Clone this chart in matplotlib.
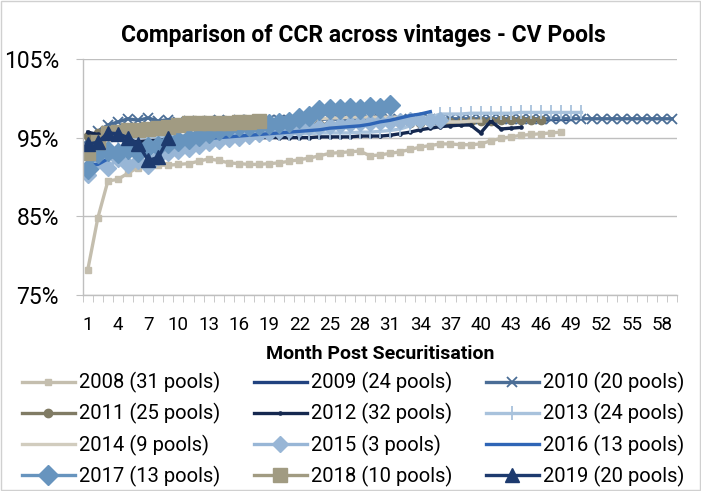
import matplotlib
matplotlib.use("Agg")
import matplotlib.pyplot as plt
from matplotlib.patches import Rectangle
from matplotlib.ticker import FixedLocator, FuncFormatter

plt.rcParams['font.family'] = ['Roboto', 'DejaVu Sans']

# CCR (%) by month post securitisation, one list per vintage
ccr_2008 = [78.2, 84.8, 89.5, 89.7, 90.5, 91.2, 91.5, 91.5, 91.5, 91.6,
            91.7, 92.0, 92.3, 92.1, 91.8, 91.7, 91.6, 91.6, 91.7, 91.8,
            92.0, 92.2, 92.4, 92.7, 93.0, 93.1, 93.2, 93.3, 92.7, 92.8,
            93.0, 93.2, 93.5, 93.8, 94.0, 94.2, 94.2, 94.1, 94.1, 94.2,
            94.6, 94.9, 95.1, 95.3, 95.4, 95.5, 95.6, 95.7]
ccr_2009 = [94.5, 94.9, 95.2, 95.4, 95.5, 95.6, 95.7, 95.8, 95.9, 96.0,
            96.0, 96.1, 96.1, 96.2, 96.2, 96.3, 96.3, 96.4, 96.4, 96.5,
            96.5, 96.5, 96.6, 96.6, 96.6, 96.7, 96.7, 96.7, 96.8, 96.8,
            96.8, 96.9, 96.9, 96.9, 97.0, 97.0, 97.0, 97.0, 97.1, 97.1,
            97.1, 97.1, 97.2, 97.2, 97.2, 97.2, 97.3, 97.3, 97.3]
ccr_2010 = [94.8, 95.8, 96.6, 97.0, 97.4, 97.2, 97.5, 97.1, 97.3, 97.0,
            97.1, 97.0, 97.1, 97.2, 97.1, 97.2, 97.2, 97.3, 97.2, 97.3,
            97.3, 97.2, 97.3, 97.3, 97.4, 97.3, 97.3, 97.4, 97.3, 97.4,
            97.4, 97.3, 97.4, 97.4, 97.4, 97.3, 97.4, 97.4, 97.4, 97.4,
            97.4, 97.4, 97.4, 97.4, 97.4, 97.4, 97.4, 97.4, 97.4, 97.4,
            97.4, 97.4, 97.4, 97.4, 97.4, 97.4, 97.4, 97.4, 97.4]
ccr_2011 = [95.2, 95.6, 95.4, 95.8, 96.0, 96.0, 96.1, 96.1, 96.2, 96.2,
            96.3, 96.3, 96.3, 96.4, 96.4, 96.4, 96.5, 96.5, 96.5, 96.6,
            96.6, 96.6, 96.7, 96.7, 96.7, 96.7, 96.8, 96.8, 96.8, 96.8,
            96.9, 96.9, 96.9, 96.9, 97.0, 97.0, 97.0, 97.0, 97.1, 97.1,
            97.1, 97.2, 97.2, 97.2, 97.3, 97.3]
ccr_2012 = [95.7, 95.4, 95.0, 94.8, 94.6, 94.5, 94.6, 94.7, 94.8, 94.9,
            95.0, 95.0, 95.0, 95.0, 95.0, 95.0, 95.0, 95.0, 95.0, 95.0,
            95.0, 95.0, 95.0, 95.1, 95.1, 95.1, 95.1, 95.2, 95.2, 95.2,
            95.3, 95.5, 95.7, 96.0, 96.2, 96.4, 96.5, 96.6, 96.6, 95.6,
            97.1, 96.1, 96.2, 96.3]
ccr_2013 = [93.5, 94.0, 94.5, 94.8, 95.0, 95.0, 95.1, 95.1, 95.2, 95.2,
            95.3, 95.3, 95.3, 95.4, 95.4, 95.4, 95.4, 95.5, 95.5, 95.5,
            95.5, 95.5, 95.5, 95.6, 95.6, 95.6, 95.6, 95.7, 95.7, 95.8,
            95.9, 96.1, 96.5, 97.0, 97.6, 98.0, 98.0, 98.0, 98.1, 98.1,
            98.1, 98.1, 98.1, 98.2, 98.2, 98.2, 98.2, 98.2, 98.2, 98.2]
ccr_2014 = [94.0, 94.3, 94.6, 94.9, 95.1, 95.3, 95.5, 95.7, 95.8, 96.0,
            96.1, 96.2, 96.3, 96.4, 96.5, 96.6, 96.7, 96.8, 96.9, 97.0,
            97.1, 97.2, 97.3, 97.4, 97.5, 97.5, 97.6, 97.6, 97.6, 97.6,
            97.6, 97.6, 97.5, 97.3, 97.1, 97.0, 97.0, 97.0, 97.1, 97.1]
ccr_2015 = [90.2, 92.0, 91.2, 92.3, 91.5, 92.0, 91.4, 92.5, 93.0, 93.3,
            93.6, 94.0, 94.3, 94.6, 94.8, 95.0, 95.2, 95.4, 95.6, 95.8,
            96.0, 96.1, 96.3, 96.4, 96.5, 96.6, 96.7, 96.8, 96.9, 97.0,
            97.0, 97.1, 97.2, 97.2, 97.3, 97.3]
ccr_2016 = [91.5, 91.6, 92.3, 93.0, 93.4, 93.8, 94.1, 94.3, 94.4, 94.5,
            94.6, 94.8, 94.9, 95.0, 95.1, 95.2, 95.3, 95.4, 95.5, 95.6,
            95.7, 95.8, 95.9, 96.0, 96.2, 96.3, 96.4, 96.5, 96.7, 97.0,
            97.2, 97.5, 97.8, 98.0, 98.3]
ccr_2017 = [91.0, 93.0, 93.3, 93.0, 93.5, 93.2, 93.8, 94.0, 94.3, 94.6,
            94.8, 95.2, 95.6, 96.0, 96.3, 96.5, 96.5, 96.6, 96.7, 96.8,
            97.0, 97.5, 97.8, 98.5, 98.7, 98.6, 98.8, 98.7, 98.9, 98.8,
            99.2]
ccr_2018 = [93.0, 94.5, 95.6, 95.7, 96.0, 96.0, 96.1, 96.2, 96.3, 96.6,
            96.8, 96.9, 96.9, 96.9, 96.9, 97.0, 97.0, 97.1]
ccr_2019 = [94.2, 94.4, 95.6, 95.5, 95.0, 94.2, 92.1, 92.5, 94.9]

labels = ['2008 (31 pools)', '2009 (24 pools)', '2010 (20 pools)',
          '2011 (25 pools)', '2012 (32 pools)', '2013 (24 pools)',
          '2014 (9 pools)', '2015 (3 pools)', '2016 (13 pools)',
          '2017 (13 pools)', '2018 (10 pools)', '2019 (20 pools)']
series = [ccr_2008, ccr_2009, ccr_2010, ccr_2011, ccr_2012, ccr_2013,
          ccr_2014, ccr_2015, ccr_2016, ccr_2017, ccr_2018, ccr_2019]
colors = ['#C4BEAE', '#21427F', '#4A6D96', '#807B64', '#15284F', '#A8C2DC',
          '#D1CCBE', '#98B6D6', '#2F65B6', '#6794BE', '#A19B82', '#1D3A6E']
markers = ['s', None, 'x', 'o', '.', '|', None, 'D', None, 'D', 's', '^']
msizes = [5, 0, 7, 6, 4, 10, 0, 8, 0, 10, 10, 10]

n_months = 59

fig = plt.figure(figsize=(7.01, 4.91), dpi=100)
ax = fig.add_axes([0.118, 0.399, 0.848, 0.481])

lines = []
for vals, lab, c, m, ms in zip(series, labels, colors, markers, msizes):
    months = list(range(1, len(vals) + 1))
    if m is None:
        ln, = ax.plot(months, vals, color=c, lw=2.4, label=lab)
    elif m in ('x', '|', '.'):
        ln, = ax.plot(months, vals, color=c, lw=2.4, marker=m, ms=ms,
                      mew=1.3, label=lab)
    else:
        ln, = ax.plot(months, vals, color=c, lw=2.4, marker=m, ms=ms,
                      mec=c, mfc=c, label=lab)
    lines.append(ln)

ax.set_xlim(0.5, n_months + 0.5)
ax.set_ylim(75, 105)
ax.set_yticks([75, 85, 95, 105])
ax.yaxis.set_major_formatter(FuncFormatter(lambda v, p: f'{v:.0f}%'))
ax.tick_params(axis='y', labelsize=16.5, length=5, color='#BFBFBF', pad=12)
ax.grid(axis='y', color='#BFBFBF', lw=1)
ax.set_axisbelow(True)

ax.set_xticks(list(range(1, n_months + 1, 3)))
ax.xaxis.set_minor_locator(FixedLocator([k + 0.5 for k in range(0, n_months + 1)]))
ax.tick_params(axis='x', which='major', length=0, labelsize=13.5, pad=15)
ax.tick_params(axis='x', which='minor', length=5, color='#BFBFBF')

for s in ['top', 'right']:
    ax.spines[s].set_visible(False)
for s in ['left', 'bottom']:
    ax.spines[s].set_color('#BFBFBF')
    ax.spines[s].set_linewidth(1)

ax.set_xlabel('Month Post Securitisation', fontsize=14, fontweight='bold',
              labelpad=8)
fig.text(0.518, 0.928, 'Comparison of CCR across vintages - CV Pools',
         ha='center', va='center', fontsize=16.5, fontweight='bold')

# legend reads row by row, matplotlib fills column by column
order = [0, 3, 6, 9, 1, 4, 7, 10, 2, 5, 8, 11]
fig.legend([lines[i] for i in order], [labels[i] for i in order],
           loc='upper left', bbox_to_anchor=(0.031, 0.242), ncol=3,
           frameon=False, fontsize=14.5, handlelength=2.65,
           handletextpad=0.2, columnspacing=1.65, labelspacing=0.5,
           borderpad=0, borderaxespad=0)

fig.patches.append(Rectangle((0.002, 0.002), 0.996, 0.996, transform=fig.transFigure,
                             fill=False, edgecolor='#D0D0D0', lw=1))

fig.savefig('out.png', dpi=100)
